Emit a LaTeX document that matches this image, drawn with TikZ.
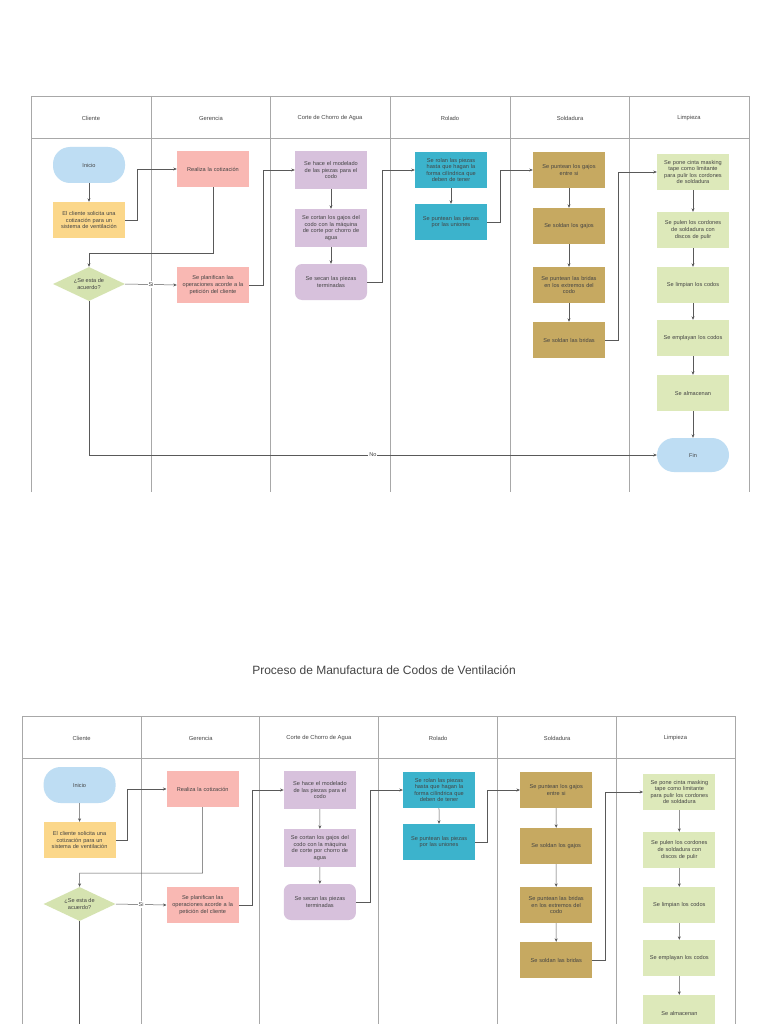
\documentclass[tikz,border=0pt]{standalone}
\usepackage{fontspec}
\setmainfont{Liberation Sans}
\usetikzlibrary{shapes.geometric,arrows.meta}
\definecolor{txt}{HTML}{444444}
\definecolor{lane}{HTML}{A8A8A8}
\definecolor{cblue}{HTML}{BEDDF3}
\definecolor{corange}{HTML}{FBD78A}
\definecolor{cgreen}{HTML}{D5E3B0}
\definecolor{cpink}{HTML}{F9B8B3}
\definecolor{cpurple}{HTML}{D7C1DC}
\definecolor{cteal}{HTML}{3CB3CC}
\definecolor{cgold}{HTML}{C6A961}
\definecolor{clime}{HTML}{DDE9BA}
\tikzset{
 box/.style={draw=none,minimum width=72pt,minimum height=36pt,text width=66pt,align=center,inner sep=1pt,font=\fontsize{5.6}{6.6}\selectfont,text=txt},
 stad/.style={box,rounded corners=17pt},
 rbox/.style={box,rounded corners=7pt},
 dia/.style={diamond,aspect=2.1,draw=none,fill=cgreen,minimum width=72pt,minimum height=34pt,inner sep=0pt,align=center,font=\fontsize{5.6}{6.6}\selectfont,text=txt},
 hd/.style={font=\fontsize{5.8}{7}\selectfont,text=txt},
 ed/.style={draw=black!65,line width=0.5pt,-{Stealth[length=3.5pt,width=3pt]}},
 ln/.style={draw=lane,line width=0.6pt},
 lbl/.style={fill=white,inner sep=1pt,font=\fontsize{5.6}{6.6}\selectfont,text=txt}
}
\newcommand\flowchart{%
 \draw[ln] (31,492) -- (31,96) -- (749,96) -- (749,492);
 \draw[ln] (31,138) -- (749,138);
 \foreach \x in {151,270,390,510,629} \draw[ln] (\x,96) -- (\x,492);
 \node[hd] (h1) at (91,118) {Cliente};
 \node[hd] (h2) at (211,118) {Gerencia};
 \node[hd] (h3) at (330,118) {Corte de Chorro de Agua};
 \node[hd] (h4) at (450,118) {Rolado};
 \node[hd] (h5) at (570,118) {Soldadura};
 \node[hd] (h6) at (689,118) {Limpieza};
 \node[stad,fill=cblue] (ini) at (89,165) {Inicio};
 \node[box,fill=corange] (cli) at (89,220) {El cliente solicita una\\cotización para un\\sistema de ventilación};
 \node[dia] (dec) at (89,284) {¿Se esta de\\acuerdo?};
 \node[box,fill=cpink] (cot) at (213,169) {Realiza la cotización};
 \node[box,fill=cpink] (pla) at (213,285) {Se planifican las\\operaciones acorde a la\\petición del cliente};
 \node[box,fill=cpurple,minimum height=38pt] (c1) at (331,170) {Se hace el modelado\\de las piezas para el\\codo};
 \node[box,fill=cpurple,minimum height=38pt] (c2) at (331,228) {Se cortan los gajos del\\codo con la máquina\\de corte por chorro de\\agua};
 \node[rbox,fill=cpurple] (c3) at (331,282) {Se secan las piezas\\terminadas};
 \node[box,fill=cteal] (r1) at (451,170) {Se rolan las piezas\\hasta que hagan la\\forma cilíndrica que\\deben de tener};
 \node[box,fill=cteal] (r2) at (451,222) {Se puntean las piezas\\por las uniones};
 \node[box,fill=cgold] (s1) at (569,170) {Se puntean los gajos\\entre si};
 \node[box,fill=cgold] (s2) at (569,226) {Se soldan los gajos};
 \node[box,fill=cgold] (s3) at (569,285) {Se puntean las bridas\\en los extremos del\\codo};
 \node[box,fill=cgold] (s4) at (569,340) {Se soldan las bridas};
 \node[box,fill=clime] (l1) at (693,172) {Se pone cinta masking\\tape como limitante\\para pulir los cordones\\de soldadura};
 \node[box,fill=clime] (l2) at (693,230) {Se pulen los cordones\\de soldadura con\\discos de pulir};
 \node[box,fill=clime] (l3) at (693,285) {Se limpian los codos};
 \node[box,fill=clime] (l4) at (693,338) {Se emplayan los codos};
 \node[box,fill=clime] (l5) at (693,393) {Se almacenan};
 \node[stad,fill=cblue,minimum height=34pt] (fin) at (693,455) {Fin};
 \draw[ed] (ini) -- (cli);
 \draw[ed] (cli.east) -| (137,220) |- (cot.west);
 \draw[ed] (cot.south) |- (89,253) -- (dec.north);
 \draw[ed] (dec.east) -- node[lbl]{Si} (pla.west);
 \draw[ed] (pla.east) -| (263,285) |- (c1.west);
 \draw[ed] (c1) -- (c2);
 \draw[ed] (c2) -- (c3);
 \draw[ed] (c3.east) -| (382,282) |- (r1.west);
 \draw[ed] (r1) -- (r2);
 \draw[ed] (r2.east) -| (500,222) |- (s1.west);
 \draw[ed] (s1) -- (s2);
 \draw[ed] (s2) -- (s3);
 \draw[ed] (s3) -- (s4);
 \draw[ed] (s4.east) -| (618,340) |- (l1.west);
 \draw[ed] (l1) -- (l2);
 \draw[ed] (l2) -- (l3);
 \draw[ed] (l3) -- (l4);
 \draw[ed] (l4) -- (l5);
 \draw[ed] (l5) -- (fin);
 \draw[ed] (dec.south) |- node[lbl,pos=0.75]{No} (fin.west);
}
\begin{document}
\begin{tikzpicture}[x=1pt,y=-1pt]
\useasboundingbox (0,0) rectangle (768,1024);
\clip (0,0) rectangle (768,1024);
\fill[white] (0,0) rectangle (768,1024);
\begin{scope}[name prefix=a-]
\flowchart
\end{scope}
\node[font=\fontsize{12}{14}\selectfont,text=txt] (title) at (384,670) {Proceso de Manufactura de Codos de Ventilación};
\begin{scope}[name prefix=b-,shift={(-8.8,620)},xscale=0.993]
\flowchart
\end{scope}
\end{tikzpicture}
\end{document}
